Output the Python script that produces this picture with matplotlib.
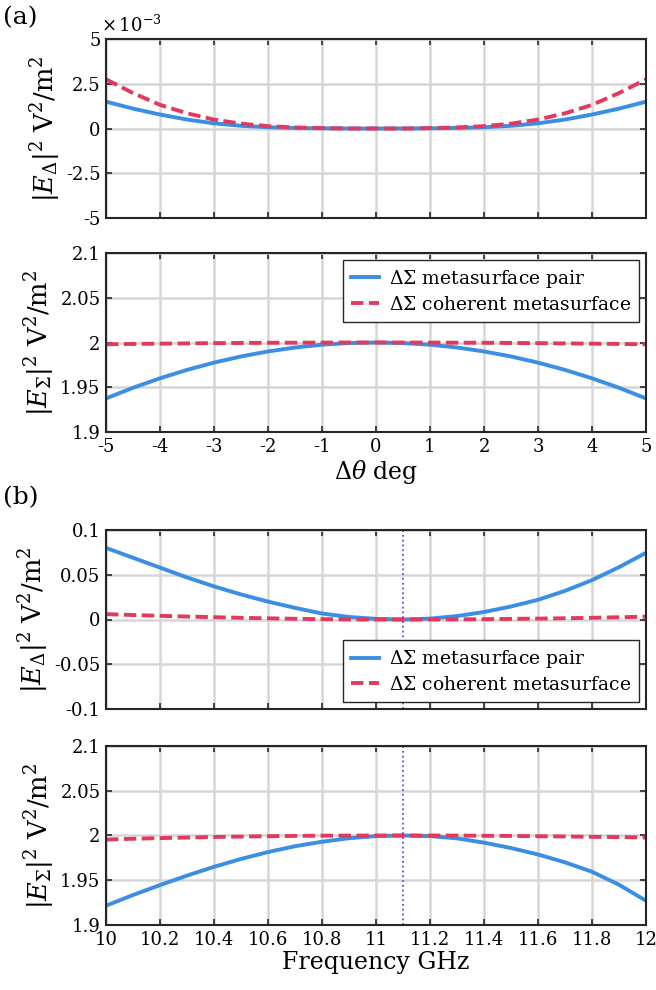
import numpy as np
import matplotlib
matplotlib.use("Agg")
import matplotlib.pyplot as plt
from matplotlib.ticker import FuncFormatter

plt.rcParams['font.family'] = 'DejaVu Serif'
plt.rcParams['mathtext.fontset'] = 'dejavuserif'
plt.rcParams['axes.unicode_minus'] = False

# ---------------------------------------------------
# (a) angle sweep
theta = [-5, -4.5, -4, -3.5, -3, -2.5, -2, -1.5, -1, -0.5, 0,
         0.5, 1, 1.5, 2, 2.5, 3, 3.5, 4, 4.5, 5]
diff_pair = [1.50, 1.11, 0.78, 0.50, 0.29, 0.15, 0.07, 0.03, 0.01, 0.0, 0.0,
             0.0, 0.01, 0.03, 0.07, 0.15, 0.29, 0.50, 0.78, 1.11, 1.50]       # x1e-3
diff_coh = [2.75, 1.98, 1.32, 0.85, 0.50, 0.27, 0.13, 0.06, 0.02, 0.0, 0.0,
            0.0, 0.02, 0.06, 0.13, 0.27, 0.50, 0.85, 1.32, 1.98, 2.75]        # x1e-3
sum_pair = [1.9375, 1.9494, 1.9600, 1.9694, 1.9775, 1.9844, 1.9900, 1.9944, 1.9975, 1.9994, 2.0,
            1.9994, 1.9975, 1.9944, 1.9900, 1.9844, 1.9775, 1.9694, 1.9600, 1.9494, 1.9375]
sum_coh = [1.9980, 1.9984, 1.9987, 1.9990, 1.9993, 1.9995, 1.9997, 1.9998, 1.9999, 2.0, 2.0,
           2.0, 1.9999, 1.9998, 1.9997, 1.9995, 1.9993, 1.9990, 1.9987, 1.9984, 1.9980]

# (b) frequency sweep
freq = [10.0, 10.1, 10.2, 10.3, 10.4, 10.5, 10.6, 10.7, 10.8, 10.9, 11.0,
        11.1, 11.2, 11.3, 11.4, 11.5, 11.6, 11.7, 11.8, 11.9, 12.0]
fdiff_pair = [0.080, 0.069, 0.058, 0.047, 0.037, 0.028, 0.020, 0.013, 0.0067, 0.0028, 0.0007,
              0.0, 0.0010, 0.0038, 0.0084, 0.0145, 0.0220, 0.0320, 0.0440, 0.0585, 0.0745]
fdiff_coh = [0.0060, 0.0050, 0.0041, 0.0033, 0.0026, 0.0019, 0.0013, 0.0008, 0.0004, 0.0001, 0.0,
             0.0, 0.0, 0.0002, 0.0004, 0.0007, 0.0010, 0.0014, 0.0019, 0.0025, 0.0032]
fsum_pair = [1.9216, 1.9335, 1.9446, 1.9552, 1.9650, 1.9738, 1.9815, 1.9880, 1.9930, 1.9970, 1.9993,
             2.0, 1.9993, 1.9968, 1.9920, 1.9860, 1.9788, 1.9700, 1.9595, 1.9450, 1.9271]
fsum_coh = [1.9955, 1.9964, 1.9971, 1.9977, 1.9983, 1.9988, 1.9992, 1.9995, 1.9998, 1.9999, 2.0,
            2.0, 2.0, 1.9999, 1.9997, 1.9995, 1.9992, 1.9989, 1.9985, 1.9982, 1.9978]
f_marker = 11.1

# ---------------------------------------------------
blue = '#3a8ee3'
red = '#e23a5e'
lw = 2.8
dash = (0, (3.2, 1.4))
tfs = 13      # ticks
gfs = 13.5    # legend
lfs = 18.5    # y labels
xfs = 17      # x labels
lab_pair = r'$\Delta\Sigma$ metasurface pair'
lab_coh = r'$\Delta\Sigma$ coherent metasurface'
ylab_d = r'$|E_\Delta|^2$ V$^2$/m$^2$'
ylab_s = r'$|E_\Sigma|^2$ V$^2$/m$^2$'

fig = plt.figure(figsize=(6.56, 9.9), dpi=100)
L, W = 106/656, 540/656
def box(top, bot):
    return [L, 1 - bot/990, W, (bot - top)/990]

ax1 = fig.add_axes(box(39, 218))
ax2 = fig.add_axes(box(253, 432))
ax3 = fig.add_axes(box(530, 709))
ax4 = fig.add_axes(box(746, 925))

def style(ax):
    ax.grid(True, color='#d6d6d6', lw=1.8)
    ax.set_axisbelow(True)
    ax.tick_params(direction='in', top=True, right=True, labelsize=tfs,
                   length=4, width=1.2, color='#262626', pad=4)
    for s in ax.spines.values():
        s.set_linewidth(1.5)
        s.set_color('#262626')

def legend(ax, loc):
    lg = ax.legend(loc=loc, fontsize=gfs, fancybox=False, framealpha=1,
                   edgecolor='#262626', borderaxespad=0.35, handlelength=1.5,
                   borderpad=0.45, labelspacing=0.3, handletextpad=0.5)
    lg.get_frame().set_linewidth(1.0)

# --- (a) top
ax1.plot(theta, np.array(diff_pair) * 1e-3, color=blue, lw=lw)
ax1.plot(theta, np.array(diff_coh) * 1e-3, color=red, lw=lw, ls=dash)
ax1.set_xlim(-5, 5)
ax1.set_ylim(-5e-3, 5e-3)
ax1.set_xticks(range(-5, 6))
ax1.set_yticks([-5e-3, -2.5e-3, 0, 2.5e-3, 5e-3])
ax1.yaxis.set_major_formatter(FuncFormatter(lambda v, p: '%g' % round(v * 1e3, 3)))
ax1.set_xticklabels([])
ax1.set_ylabel(ylab_d, fontsize=lfs, labelpad=2)
ax1.text(-0.01, 1.04, r'$\times\,10^{-3}$', transform=ax1.transAxes, fontsize=tfs)
style(ax1)

# --- (a) bottom
ax2.plot(theta, sum_pair, color=blue, lw=lw, label=lab_pair)
ax2.plot(theta, sum_coh, color=red, lw=lw, ls=dash, label=lab_coh)
ax2.set_xlim(-5, 5)
ax2.set_ylim(1.9, 2.1)
ax2.set_xticks(range(-5, 6))
ax2.set_yticks([1.9, 1.95, 2.0, 2.05, 2.1])
ax2.set_yticklabels(['1.9', '1.95', '2', '2.05', '2.1'])
ax2.set_xlabel(r'$\Delta\theta$ deg', fontsize=xfs, labelpad=2)
ax2.set_ylabel(ylab_s, fontsize=lfs, labelpad=2)
legend(ax2, 'upper right')
style(ax2)

# --- (b) top
ax3.plot(freq, fdiff_pair, color=blue, lw=lw, label=lab_pair)
ax3.plot(freq, fdiff_coh, color=red, lw=lw, ls=dash, label=lab_coh)
ax3.axvline(f_marker, color='#7b3cf0', lw=1.3, ls=':')
ax3.set_xlim(10, 12)
ax3.set_ylim(-0.1, 0.1)
ax3.set_xticks(np.arange(10, 12.01, 0.2))
ax3.set_xticklabels([])
ax3.set_yticks([-0.1, -0.05, 0, 0.05, 0.1])
ax3.set_yticklabels(['-0.1', '-0.05', '0', '0.05', '0.1'])
ax3.set_ylabel(ylab_d, fontsize=lfs, labelpad=2)
legend(ax3, 'lower right')
style(ax3)

# --- (b) bottom
ax4.plot(freq, fsum_pair, color=blue, lw=lw)
ax4.plot(freq, fsum_coh, color=red, lw=lw, ls=dash)
ax4.axvline(f_marker, color='#7b3cf0', lw=1.3, ls=':')
ax4.set_xlim(10, 12)
ax4.set_ylim(1.9, 2.1)
ax4.set_xticks(np.arange(10, 12.01, 0.2))
ax4.set_xticklabels(['10', '10.2', '10.4', '10.6', '10.8', '11', '11.2', '11.4', '11.6', '11.8', '12'])
ax4.set_yticks([1.9, 1.95, 2.0, 2.05, 2.1])
ax4.set_yticklabels(['1.9', '1.95', '2', '2.05', '2.1'])
ax4.set_xlabel('Frequency GHz', fontsize=xfs, labelpad=2)
ax4.set_ylabel(ylab_s, fontsize=lfs, labelpad=2)
style(ax4)

fig.text(3/656, 1 - 18/990, '(a)', fontsize=18, va='center')
fig.text(3/656, 1 - 498/990, '(b)', fontsize=18, va='center')

fig.savefig('out.png', dpi=100)
